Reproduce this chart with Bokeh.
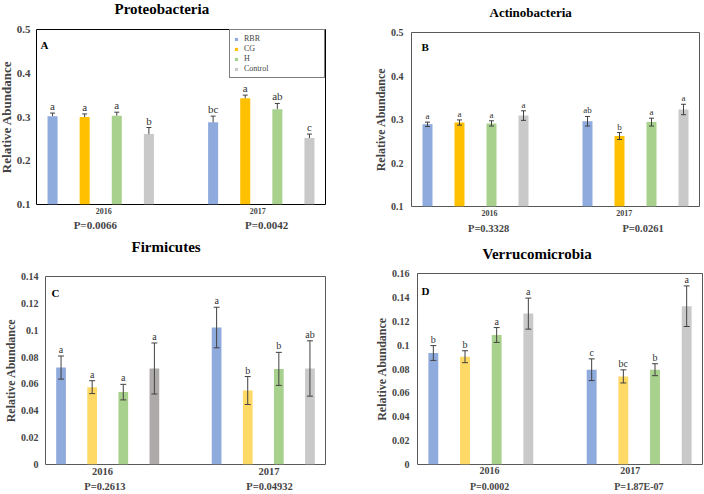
from bokeh.plotting import figure
from bokeh.models import (ColumnDataSource, FixedTicker, LinearAxis, Range1d,
                          Whisker, TeeHead, Legend, LegendItem, Title)
from bokeh.layouts import column, row
from bokeh.embed import file_html
from bokeh.resources import INLINE
from bokeh.core.properties import value

# ---------------- data ----------------
treatments = ["RBR", "CG", "H", "Control"]
years = ["2016", "2017"]

# Proteobacteria (A)
proteo_2016 = [0.302, 0.300, 0.303, 0.261]
proteo_2017 = [0.288, 0.343, 0.318, 0.252]
proteo_err_2016 = [0.007, 0.007, 0.008, 0.015]
proteo_err_2017 = [0.014, 0.007, 0.013, 0.009]
proteo_letters_2016 = ["a", "a", "a", "b"]
proteo_letters_2017 = ["bc", "a", "ab", "c"]
proteo_p = ["P=0.0066", "P=0.0042"]

# Actinobacteria (B)
actino_2016 = [0.289, 0.293, 0.291, 0.309]
actino_2017 = [0.296, 0.262, 0.294, 0.323]
actino_err_2016 = [0.005, 0.006, 0.006, 0.011]
actino_err_2017 = [0.011, 0.008, 0.009, 0.012]
actino_letters_2016 = ["a", "a", "a", "a"]
actino_letters_2017 = ["ab", "b", "a", "a"]
actino_p = ["P=0.3328", "P=0.0261"]

# Firmicutes (C)
firmi_2016 = [0.0722, 0.0576, 0.0539, 0.0715]
firmi_2017 = [0.1020, 0.0551, 0.0712, 0.0715]
firmi_err_2016 = [0.0086, 0.0048, 0.0058, 0.0190]
firmi_err_2017 = [0.0151, 0.0104, 0.0123, 0.0206]
firmi_letters_2016 = ["a", "a", "a", "a"]
firmi_letters_2017 = ["a", "b", "b", "ab"]
firmi_p = ["P=0.2613", "P=0.04932"]

# Verrucomicrobia (D)
verru_2016 = [0.0934, 0.0903, 0.1085, 0.1264]
verru_2017 = [0.0794, 0.0738, 0.0794, 0.1326]
verru_err_2016 = [0.0062, 0.0050, 0.0062, 0.0130]
verru_err_2017 = [0.0091, 0.0055, 0.0050, 0.0170]
verru_letters_2016 = ["b", "b", "a", "a"]
verru_letters_2017 = ["c", "bc", "b", "a"]
verru_p = ["P=0.0002", "P=1.87E-07"]

y_ticks_ab = [0.1, 0.2, 0.3, 0.4, 0.5]
y_ticks_c = [0, 0.02, 0.04, 0.06, 0.08, 0.1, 0.12, 0.14]
y_ticks_d = [0, 0.02, 0.04, 0.06, 0.08, 0.1, 0.12, 0.14, 0.16]

# ---------------- style ----------------
FONT = "Liberation Serif"
group_centers = [0.5, 1.5]
bar_offsets = [-0.3, -0.1, 0.1, 0.3]
BAR_W = 0.0625
ERR_COLOR = "#404040"

def make_panel(cfg, m16, m17, e16, e17, l16, l17, pvals, y_ticks, legend=False):
    mt, mb, ml = cfg["mt"], cfg["mb"], cfg["ml"]
    p = figure(width=cfg["w"] + ml, height=cfg["h"] + mt + mb, output_backend="svg",
               toolbar_location=None, margin=(-mt, 0, -mb, -ml),
               x_range=Range1d(0.1, 1.9), y_range=Range1d(y_ticks[0], y_ticks[-1]),
               min_border_left=cfg["bl"], min_border_right=cfg["br"],
               min_border_top=cfg["bt"], min_border_bottom=cfg["bb"],
               background_fill_color="white", border_fill_color=None)
    p.title = Title(text=cfg["title"], align="left", offset=cfg["toff"],
                    standoff=cfg["tstand"], text_font=FONT,
                    text_font_style="bold", text_font_size=cfg["tsize"],
                    text_color="black")
    p.grid.visible = False
    p.outline_line_color = cfg["outline"]
    p.outline_line_width = 1

    renderers = []
    for i, t in enumerate(treatments):
        xs = [group_centers[0] + bar_offsets[i], group_centers[1] + bar_offsets[i]]
        tops = [m16[i], m17[i]]
        errs = [e16[i], e17[i]]
        cols = [cfg["colors16"][i], cfg["colors17"][i]]
        if cfg["up_only"]:
            lows = tops
        else:
            lows = [a - b for a, b in zip(tops, errs)]
        ups = [a + b for a, b in zip(tops, errs)]
        src = ColumnDataSource(dict(x=xs, top=tops, color=cols, lower=lows,
                                    upper=ups, letter=[l16[i], l17[i]]))
        r = p.vbar(x="x", top="top", bottom=y_ticks[0], width=BAR_W,
                   fill_color="color", line_color=None, source=src)
        renderers.append(r)
        wh = Whisker(base="x", lower="lower", upper="upper", source=src,
                     line_color=ERR_COLOR, line_width=1, level="annotation",
                     upper_head=TeeHead(size=cfg["cap"], line_color=ERR_COLOR, line_width=1),
                     lower_head=None if cfg["up_only"] else
                     TeeHead(size=cfg["cap"], line_color=ERR_COLOR, line_width=1))
        p.add_layout(wh)
        p.text(x="x", y="upper", text="letter", source=src, text_align="center",
               text_baseline="bottom", y_offset=-1, text_font=value(FONT),
               text_font_size=cfg["lsize"], text_color="#333333")

    # panel letter
    p.text(x=[0.1], y=[y_ticks[-1]], text=[cfg["panel"]], x_offset=cfg["px"],
           y_offset=cfg["py"], text_baseline="top", text_align="left",
           text_font=value(FONT), text_font_style="bold",
           text_font_size=cfg["psize"], text_color="black")

    # y axis
    ya = p.yaxis[0]
    ya.ticker = FixedTicker(ticks=y_ticks)
    ya.major_label_overrides = {t: f"{t:g}" for t in y_ticks}
    ya.axis_label = "Relative Abundance"
    ya.axis_label_text_font = FONT
    ya.axis_label_text_font_style = "bold"
    ya.axis_label_text_font_size = cfg["ylsize"]
    ya.axis_label_standoff = 0
    ya.major_label_text_font = FONT
    ya.major_label_text_font_style = "bold"
    ya.major_label_text_font_size = cfg["ytsize"]
    ya.major_label_standoff = cfg["ystand"]
    ya.major_tick_out = 0
    ya.major_tick_in = 0
    ya.minor_tick_line_color = None
    ya.axis_line_color = None

    # x axis: years
    xa = p.xaxis[0]
    xa.ticker = FixedTicker(ticks=cfg["yr_ticks"])
    xa.major_label_overrides = dict(zip(cfg["yr_ticks"], years))
    xa.major_label_text_font = FONT
    xa.major_label_text_font_style = "bold"
    xa.major_label_text_font_size = cfg["xsize"]
    xa.major_label_standoff = cfg["xstand"]
    xa.major_tick_out = 0
    xa.major_tick_in = 0
    xa.minor_tick_line_color = None
    xa.axis_line_color = None

    # x axis: P values
    pa = LinearAxis(ticker=FixedTicker(ticks=cfg["p_ticks"]),
                    major_label_overrides=dict(zip(cfg["p_ticks"], pvals)),
                    major_label_text_font=FONT, major_label_text_font_style="bold",
                    major_label_text_font_size=cfg["psz"],
                    major_label_standoff=cfg["pstand"],
                    major_tick_out=0, major_tick_in=0,
                    minor_tick_line_color=None, axis_line_color=None)
    p.add_layout(pa, "below")

    if legend:
        items = [LegendItem(label=t, renderers=[renderers[i]], index=0)
                 for i, t in enumerate(treatments)]
        lg = Legend(items=items, location="top_right", margin=0, padding=4,
                    glyph_width=4, glyph_height=4, label_standoff=6,
                    label_width=76, label_height=9, spacing=1,
                    label_text_font=FONT, label_text_font_size="8px",
                    border_line_color="black", border_line_width=1,
                    background_fill_color="white", background_fill_alpha=1)
        p.add_layout(lg)
    return p

BLUE, ORANGE, YELLOW, GREEN = "#8FAADC", "#FFC000", "#FFD966", "#A9D18E"
GREY, DGREY = "#C9C9C9", "#AEAAAA"

# w/h = box that the panel occupies in the grid; mt/mb/ml = how far the
# figure reaches beyond that box (top, bottom, left)
cfgA = dict(w=370, h=234, mt=17, mb=0, ml=6, bl=42, br=45, bt=46, bb=30,
            title="Proteobacteria", toff=78, tstand=26, tsize="15px", outline="black",
            colors16=[BLUE, ORANGE, GREEN, GREY], colors17=[BLUE, ORANGE, GREEN, GREY],
            up_only=True, cap=5, lsize="11px", panel="A", px=4, py=9, psize="11px",
            ylsize="13px", ytsize="11px", ystand=6,
            yr_ticks=[0.519, 1.478], xsize="8px", xstand=3,
            p_ticks=[0.466, 1.534], psz="11px", pstand=2)
cfgB = dict(w=334, h=234, mt=14, mb=2, ml=0, bl=40, br=5, bt=46, bb=30,
            title="Actinobacteria", toff=78, tstand=25, tsize="13px", outline="#595959",
            colors16=[BLUE, ORANGE, GREEN, GREY], colors17=[BLUE, ORANGE, GREEN, GREY],
            up_only=False, cap=5, lsize="9px", panel="B", px=10, py=8, psize="11px",
            ylsize="12px", ytsize="10px", ystand=8,
            yr_ticks=[0.587, 1.429], xsize="8px", xstand=3,
            p_ticks=[0.582, 1.547], psz="10.5px", pstand=4)
cfgC = dict(w=370, h=260, mt=21, mb=0, ml=0, bl=41, br=45, bt=63, bb=30,
            title="Firmicutes", toff=86, tstand=43, tsize="15px", outline="#595959",
            colors16=[BLUE, YELLOW, GREEN, DGREY], colors17=[BLUE, YELLOW, GREEN, GREY],
            up_only=False, cap=6, lsize="10px", panel="C", px=6, py=10, psize="11px",
            ylsize="12px", ytsize="10px", ystand=7,
            yr_ticks=[0.466, 1.537], xsize="10.5px", xstand=3,
            p_ticks=[0.482, 1.540], psz="10.5px", pstand=3)
cfgD = dict(w=334, h=260, mt=24, mb=0, ml=0, bl=47, br=2, bt=63, bb=30,
            title="Verrucomicrobia", toff=65, tstand=24, tsize="15px", outline="#595959",
            colors16=[BLUE, YELLOW, GREEN, GREY], colors17=[BLUE, YELLOW, GREEN, GREY],
            up_only=False, cap=6, lsize="10px", panel="D", px=4, py=11, psize="11px",
            ylsize="12px", ytsize="10px", ystand=8,
            yr_ticks=[0.555, 1.444], xsize="10px", xstand=2,
            p_ticks=[0.555, 1.498], psz="10px", pstand=4)

pA = make_panel(cfgA, proteo_2016, proteo_2017, proteo_err_2016, proteo_err_2017,
                proteo_letters_2016, proteo_letters_2017, proteo_p, y_ticks_ab, legend=True)
pB = make_panel(cfgB, actino_2016, actino_2017, actino_err_2016, actino_err_2017,
                actino_letters_2016, actino_letters_2017, actino_p, y_ticks_ab)
pC = make_panel(cfgC, firmi_2016, firmi_2017, firmi_err_2016, firmi_err_2017,
                firmi_letters_2016, firmi_letters_2017, firmi_p, y_ticks_c)
pD = make_panel(cfgD, verru_2016, verru_2017, verru_err_2016, verru_err_2017,
                verru_letters_2016, verru_letters_2017, verru_p, y_ticks_d)

layout = column(row(pA, pB), row(pC, pD))

open("out.html", "w").write(file_html(layout, INLINE))
